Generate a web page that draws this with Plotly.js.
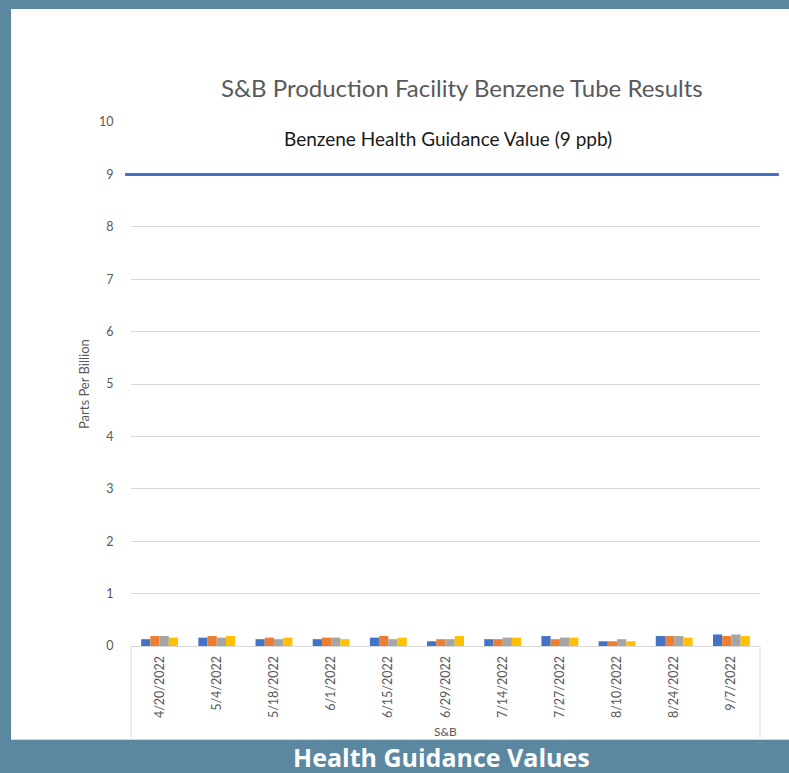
<!DOCTYPE html>
<html>
<head>
<meta charset="utf-8">
<script src="https://cdn.plot.ly/plotly-3.0.1.min.js"></script>
<style>
  html, body { margin:0; padding:0; }
  body { width:789px; height:773px; background:#5b87a1; position:relative; overflow:hidden; }
  #white { position:absolute; left:11px; top:9px; width:778px; height:731px; background:#ffffff; border-bottom:1px solid #d9d9d9; box-sizing:border-box; }
  #chart { position:absolute; left:0; top:0; width:789px; height:773px; }
</style>
</head>
<body>
<div id="white"></div>
<div id="chart"></div>
<script>
const categories = ["4/20/2022","5/4/2022","5/18/2022","6/1/2022","6/15/2022","6/29/2022","7/14/2022","7/27/2022","8/10/2022","8/24/2022","9/7/2022"];
const series1 = [0.13,0.16,0.13,0.13,0.16,0.09,0.13,0.19,0.09,0.19,0.22];
const series2 = [0.19,0.19,0.16,0.16,0.19,0.13,0.13,0.13,0.09,0.19,0.19];
const series3 = [0.19,0.16,0.13,0.16,0.13,0.13,0.16,0.16,0.13,0.19,0.22];
const series4 = [0.16,0.19,0.16,0.13,0.16,0.19,0.16,0.16,0.09,0.16,0.19];
const seriesColors = ["#4472C4","#ED7D31","#A5A5A5","#FFC000"];
const guidanceValue = 9;
const yTicks = [0,1,2,3,4,5,6,7,8,9,10];

const allSeries = [series1, series2, series3, series4];
const traces = allSeries.map((vals, i) => ({
  type: "bar",
  x: categories,
  y: vals,
  name: "Series " + (i + 1),
  marker: { color: seriesColors[i], line: { width: 0 } },
  hoverinfo: "x+y"
}));

const grayText = "#595959";
const font = "Lato, 'Open Sans', sans-serif";

const layout = {
  width: 789, height: 773,
  margin: { l: 131, r: 29, t: 122, b: 127 },
  paper_bgcolor: "rgba(0,0,0,0)",
  plot_bgcolor: "rgba(0,0,0,0)",
  showlegend: false,
  barmode: "group",
  bargap: 0.355,
  bargroupgap: 0,
  font: { family: font, color: grayText },
  title: {
    text: "S&B Production Facility Benzene Tube Results",
    font: { family: font, size: 24, color: grayText },
    x: 0.526, xref: "paper", xanchor: "center",
    y: 1 - 89 / 773, yanchor: "middle"
  },
  xaxis: {
    type: "category",
    showgrid: false,
    showline: true, linecolor: "#d9d9d9", linewidth: 1,
    ticks: "outside", ticklen: 4, tickcolor: "rgba(0,0,0,0)",
    tickangle: -90,
    tickfont: { family: font, size: 12.5, color: grayText },
    fixedrange: true
  },
  yaxis: {
    range: [0, 10],
    tickvals: yTicks,
    showgrid: true, gridcolor: "#d9d9d9", gridwidth: 1,
    zeroline: false,
    showline: false,
    ticks: "outside", ticklen: 14, tickcolor: "rgba(0,0,0,0)",
    tickfont: { family: font, size: 12.5, color: grayText },
    fixedrange: true
  },
  shapes: [
    { type: "line", xref: "paper", yref: "y", x0: -0.0095, x1: 1.03, y0: guidanceValue, y1: guidanceValue,
      line: { color: "#4472C4", width: 3 } },
    { type: "line", xref: "paper", yref: "paper", x0: 0, x1: 0, y0: 0, y1: -92 / 524,
      line: { color: "#d9d9d9", width: 1 } },
    { type: "line", xref: "paper", yref: "paper", x0: 1, x1: 1, y0: 0, y1: -92 / 524,
      line: { color: "#d9d9d9", width: 1 } }
  ],
  annotations: [
    { text: "Benzene Health Guidance Value (9 ppb)", xref: "paper", yref: "paper",
      x: (448 - 131) / 629, y: (646 - 138) / 524, showarrow: false,
      xanchor: "center", yanchor: "middle",
      font: { family: font, size: 19, color: "#1a1a1a" } },
    { text: "Parts Per Billion", xref: "paper", yref: "paper",
      x: (84 - 131) / 629, y: (646 - 384) / 524, showarrow: false, textangle: -90,
      xanchor: "center", yanchor: "middle",
      font: { family: font, size: 13, color: grayText } },
    { text: "S&B", xref: "paper", yref: "paper",
      x: (446 - 131) / 629, y: (646 - 731) / 524, showarrow: false,
      xanchor: "center", yanchor: "middle",
      font: { family: font, size: 12, color: grayText } },
    { text: "<b>Health Guidance Values</b>", xref: "paper", yref: "paper",
      x: (441 - 131) / 629, y: (646 - 757) / 524, showarrow: false,
      xanchor: "center", yanchor: "middle",
      font: { family: "'Open Sans', sans-serif", size: 25, color: "#ffffff" } }
  ]
};

Plotly.newPlot("chart", traces, layout, { displayModeBar: false, staticPlot: true });
</script>
</body>
</html>
